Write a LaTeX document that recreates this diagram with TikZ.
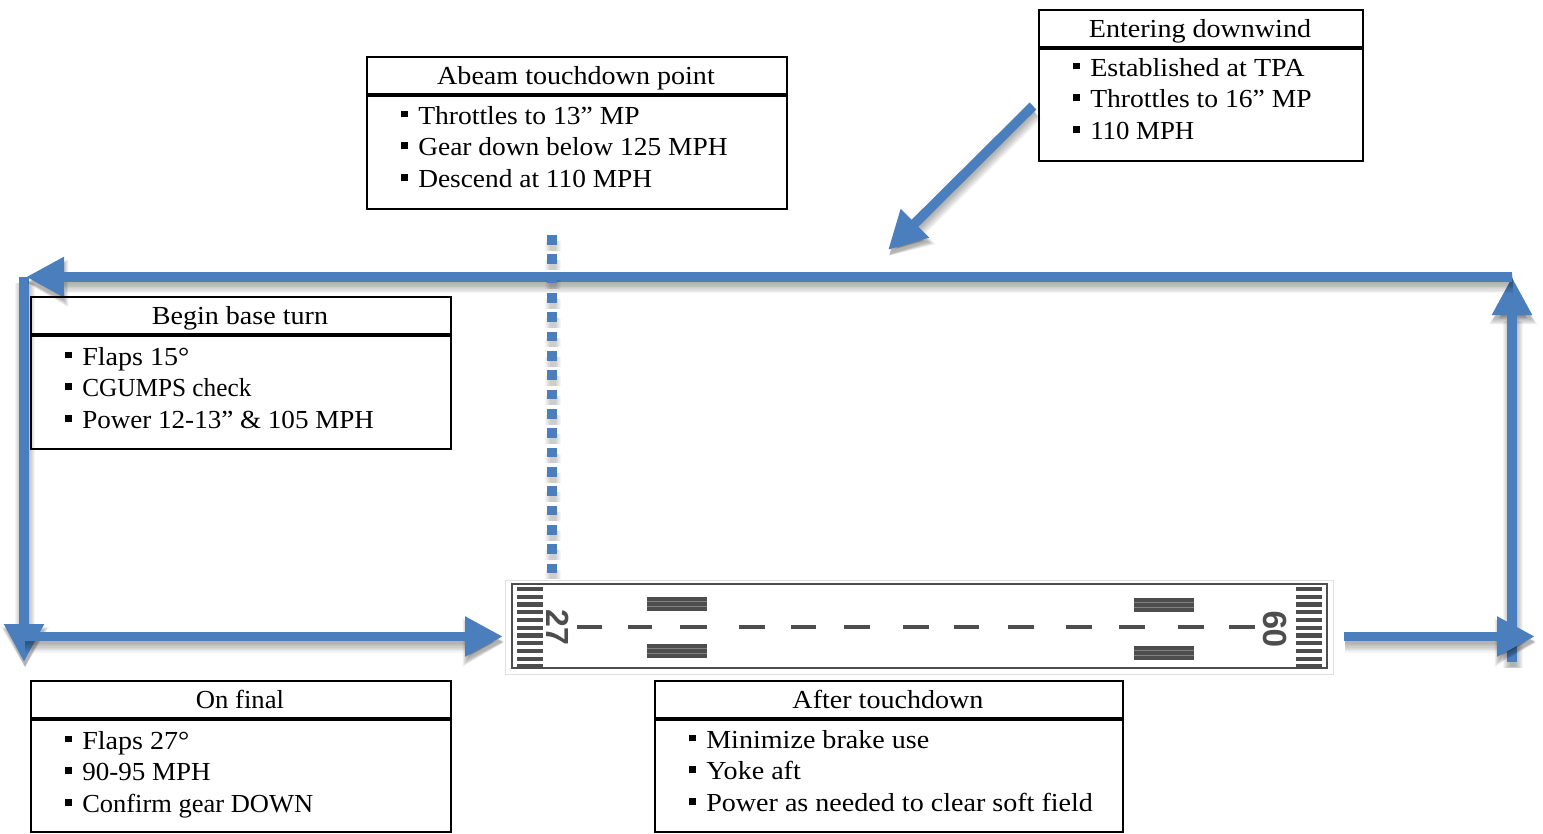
\documentclass[tikz,border=0pt]{standalone}
\usepackage{graphicx}
\usepackage{fontspec}
\setmainfont[FakeStretch=1.08]{Liberation Serif}
\newfontfamily\rwyfont{Liberation Sans}
\usetikzlibrary{arrows.meta}
\definecolor{flow}{HTML}{4A7EBC}
\definecolor{rwy}{HTML}{4D4D4D}
\newcommand{\sx}[2]{\scalebox{#1}[1]{#2}}
\tikzset{
  x=0.75pt,y=-0.75pt,
  panelbox/.style={draw=black,line width=1.5pt,inner sep=0pt,outer sep=0pt,anchor=north west},
  paneltitle/.style={anchor=base,inner sep=0pt,font=\fontsize{19.5}{22}\selectfont},
  panelitem/.style={anchor=base west,inner sep=0pt,font=\fontsize{19.5}{22}\selectfont},
  panelbullet/.style={fill=black,inner sep=0pt,minimum size=5.2pt,anchor=center},
  flowline/.style={-{Triangle[length=28.5pt,width=28.2pt]},draw=flow,line width=7.2pt},
  flowshade/.style={draw=black,opacity=.045},
  dotline/.style={draw=flow,line width=7.2pt,dash pattern=on 7.2pt off 7.3pt},
  dotshade/.style={draw=black,opacity=.035,dash pattern=on 7.2pt off 7.3pt},
  rwyedge/.style={draw=rwy,line width=1.3pt},
  rwybar/.style={fill=rwy,draw=none,inner sep=0pt},
  rwystripe/.style={draw=white,opacity=.3,line width=.6pt},
  rwydash/.style={draw=rwy,line width=2.6pt},
  rwynum/.style={font=\rwyfont\bfseries\fontsize{#1}{#1}\selectfont,text=rwy,inner sep=0pt,draw=none}
}
\newcommand{\flowarrow}[2]{%
  \foreach \w/\dy/\tl/\tw in {15/6/31/34,13/6/30.5/32.5,11.5/6/30/31,10/5.5/29.5/30,8.5/5.5/29/29,7/5/28.5/28,5.5/5/28/27,4/4.5/27.5/26} {
    \draw[flowshade,line width=\w pt,-{Triangle[length=\tl pt,width=\tw pt]}] ([shift={(1,\dy)}]#1) -- ([shift={(1,\dy)}]#2);}
  \draw[flowline] (#1) -- (#2);}
% name, x1,y1,width,height, title, item baseline offset, items
\newcommand{\panel}[8]{%
  \node[panelbox,minimum width=#4*0.75pt,minimum height=#5*0.75pt] (#1) at (#2,#3) {};
  \coordinate (#1L) at (#2,#3+38);
  \coordinate (#1R) at (#2+#4,#3+38);
  \draw[line width=2.6pt] (#1L) -- (#1R);
  \node[paneltitle] (#1T) at (#2+#4/2-1,#3+27.5) {#6};
  \foreach \t [count=\i] in {#8} {
    \node[panelbullet] (#1B\i) at (#2+37.5,#3+#7-10+\i*31.6-31.6) {};
    \node[panelitem] (#1I\i) at (#2+51,#3+#7+\i*31.6-31.6) {\t};
  }}
\begin{document}
\begin{tikzpicture}
\useasboundingbox (0,0) rectangle (1543,833);
% runway
\draw[draw=black!12,line width=.7pt] (505,580) rectangle (1333,674);
\draw[rwyedge] (512,584) rectangle (1327,668);
\foreach \i in {0,...,10} {
  \node[rwybar,minimum width=26*.75pt,minimum height=3.2pt] (la\i) at (530,589+\i*7.75) {};
  \node[rwybar,minimum width=26*.75pt,minimum height=3.2pt] (ra\i) at (1309,589+\i*7.75) {};
}
\foreach \xa/\xb in {577/602,628/652,680/707,739/765,791/816,844/870,903/929,954/979,1008/1034,1066/1092,1119/1145,1178/1204,1229/1255}
  \draw[rwydash] (\xa,627) -- (\xb,627);
\foreach \n/\cx/\cy in {ta/677/604,tb/677/651,tc/1164/605,td/1164/653} {
  \node[rwybar,minimum width=60*.75pt,minimum height=14*.75pt] (\n) at (\cx,\cy) {};
  \draw[rwystripe] ([yshift=1.7pt]\n.west) -- ([yshift=1.7pt]\n.east);
  \draw[rwystripe] ([yshift=-1.7pt]\n.west) -- ([yshift=-1.7pt]\n.east);
}
\node[rwynum=24,rotate=-90] (n27) at (558,627) {27};
\node[rwynum=25,rotate=90] (n09) at (1275,629) {09};
% coordinates
\coordinate (dw0) at (1512,277); \coordinate (dw1) at (26,277);
\coordinate (up0) at (1512,662); \coordinate (up1) at (1512,277);
\coordinate (bs0) at (24,277); \coordinate (bs1) at (24,662);
\coordinate (fn0) at (24,636.5); \coordinate (fn1) at (503,636.5);
\coordinate (ro0) at (1344,636.5); \coordinate (ro1) at (1535,636.5);
\coordinate (en0) at (1033,106); \coordinate (en1) at (888,250);
\coordinate (ab0) at (552,235); \coordinate (ab1) at (552,575);
% flow
\flowarrow{bs0}{bs1}
\flowarrow{up0}{up1}
\flowarrow{dw0}{dw1}
\flowarrow{fn0}{fn1}
\flowarrow{ro0}{ro1}
\flowarrow{en0}{en1}
% dotted
\foreach \w in {12,10.5,9,7.5,6,4.5} {\draw[dotshade,line width=\w pt] ([shift={(1,6)}]ab0) -- ([shift={(1,6)}]ab1);}
\draw[dotline] (ab0) -- (ab1);
% panels
\panel{enter}{1039}{10}{324}{151}{Entering downwind}{66}{Established at TPA,\sx{.982}{Throttles to 16” MP},\sx{.955}{110 MPH}}
\panel{abeam}{367}{57}{420}{152}{Abeam touchdown point}{67}{\sx{.982}{Throttles to 13” MP},\sx{.977}{Gear down below 125 MPH},\sx{.975}{Descend at 110 MPH}}
\panel{base}{31}{297}{420}{152}{Begin base turn}{68}{Flaps 15°,\sx{.9}{CGUMPS check},\sx{.964}{Power 12-13” \& 105 MPH}}
\panel{final}{31}{681}{420}{151}{\sx{.95}{On final}}{68}{Flaps 27°,\sx{.962}{90-95 MPH},\sx{.943}{Confirm gear DOWN}}
\panel{after}{655}{681}{468}{151}{After touchdown}{67}{Minimize brake use,Yoke aft,Power as needed to clear soft field}
\end{tikzpicture}
\end{document}
